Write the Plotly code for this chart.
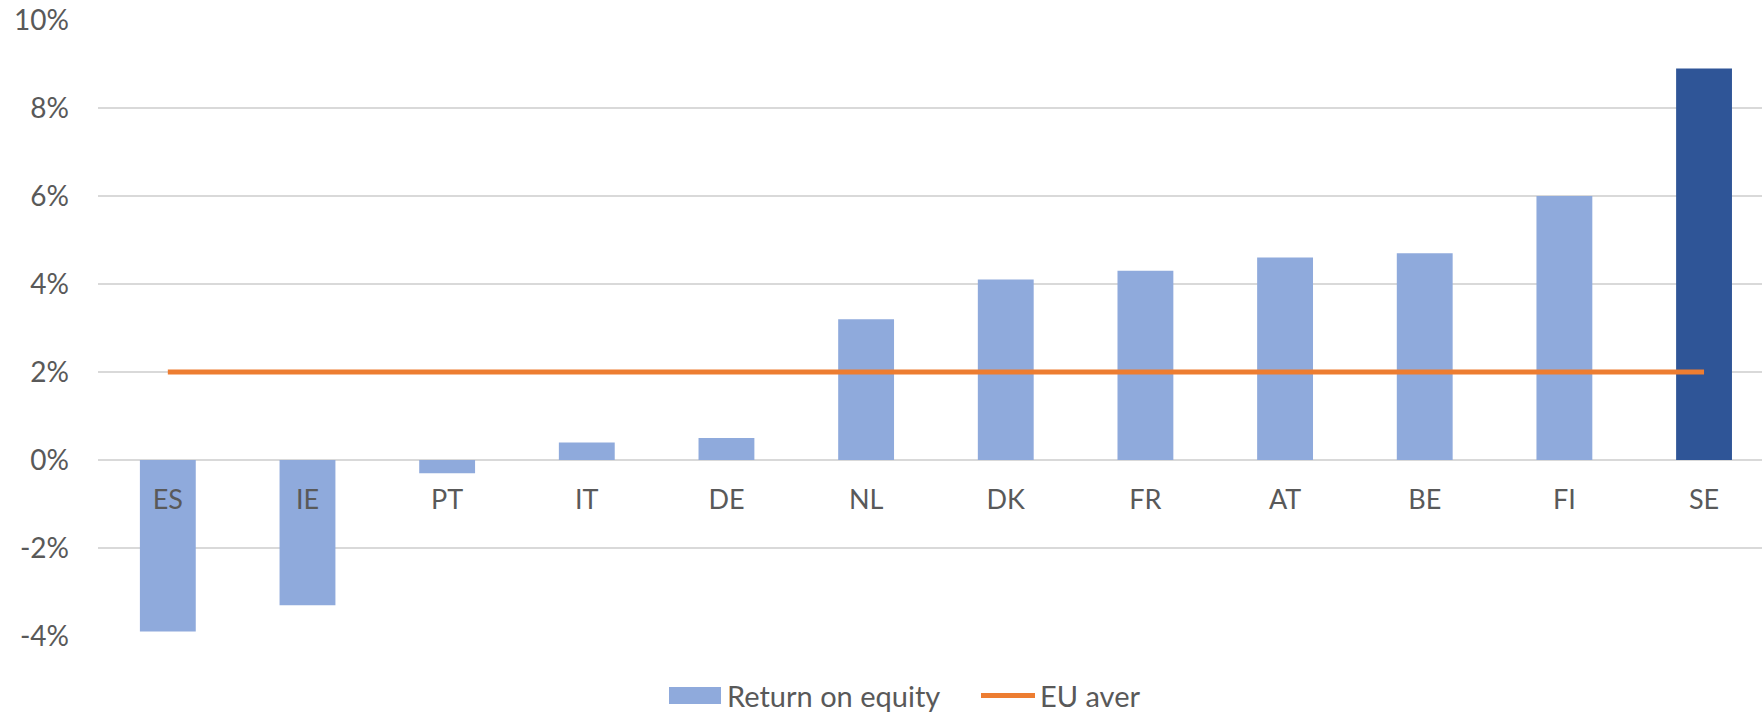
import plotly.graph_objects as go

countries = ["ES", "IE", "PT", "IT", "DE", "NL", "DK", "FR", "AT", "BE", "FI", "SE"]
roe = [-3.9, -3.3, -0.3, 0.4, 0.5, 3.2, 4.1, 4.3, 4.6, 4.7, 6.0, 8.9]
eu_avg = [2.0] * len(countries)
bar_colors = ["#8FAADC"] * 11 + ["#2F5597"]
y_ticks = [-4, -2, 0, 2, 4, 6, 8, 10]
y_labels = ["-4%", "-2%", "0%", "2%", "4%", "6%", "8%", "10%"]

W, H = 1762, 714
L, R, T, B = 98, 0, 20, 78
font = "Lato"
grey = "#595959"


def px_x(px):
    return (px - L) / (W - L - R)


def px_y(py):
    return (H - B - py) / (H - B - T)


fig = go.Figure()
fig.add_trace(
    go.Bar(
        x=countries,
        y=roe,
        marker=dict(color=bar_colors, line=dict(width=0)),
        width=0.4,
        name="Return on equity",
    )
)
fig.add_trace(
    go.Scatter(
        x=countries,
        y=eu_avg,
        mode="lines",
        line=dict(color="#ED7D31", width=5),
        name="EU aver",
    )
)

# legend drawn by hand so the swatches match the original's shape
leg_y = px_y(695.5)
fig.add_shape(type="rect", xref="paper", yref="paper",
              x0=px_x(669), x1=px_x(721), y0=px_y(704), y1=px_y(687),
              fillcolor="#8FAADC", line=dict(width=0))
fig.add_shape(type="line", xref="paper", yref="paper",
              x0=px_x(981), x1=px_x(1035), y0=leg_y, y1=leg_y,
              line=dict(color="#ED7D31", width=5))
fig.add_annotation(text="Return on equity", xref="paper", yref="paper",
                   x=px_x(725), y=leg_y, xanchor="left", yanchor="middle",
                   showarrow=False, font=dict(size=29, color=grey, family=font))
fig.add_annotation(text="EU aver", xref="paper", yref="paper",
                   x=px_x(1038), y=leg_y, xanchor="left", yanchor="middle",
                   showarrow=False, font=dict(size=29, color=grey, family=font))

fig.update_layout(
    width=W,
    height=H,
    margin=dict(l=L, r=R, t=T, b=B),
    plot_bgcolor="white",
    paper_bgcolor="white",
    font=dict(family=font, size=26, color=grey),
    showlegend=False,
    xaxis=dict(
        type="category",
        range=[-0.5, 11.415],
        anchor="free",
        position=4 / 14,
        showgrid=False,
        showline=False,
        zeroline=False,
        ticks="",
        ticklabelstandoff=21,
        tickfont=dict(size=27, color=grey),
    ),
    yaxis=dict(
        range=[-4, 10],
        tickvals=y_ticks,
        ticktext=y_labels,
        showgrid=True,
        gridcolor="#D9D9D9",
        gridwidth=2,
        zeroline=False,
        showline=False,
        ticks="",
        ticklabelstandoff=28,
        tickfont=dict(size=28, color=grey),
    ),
)

fig.write_html(
    "out.html",
    config={"displayModeBar": False},
    post_script="document.body.style.margin='0';document.body.style.overflow='hidden';",
)
